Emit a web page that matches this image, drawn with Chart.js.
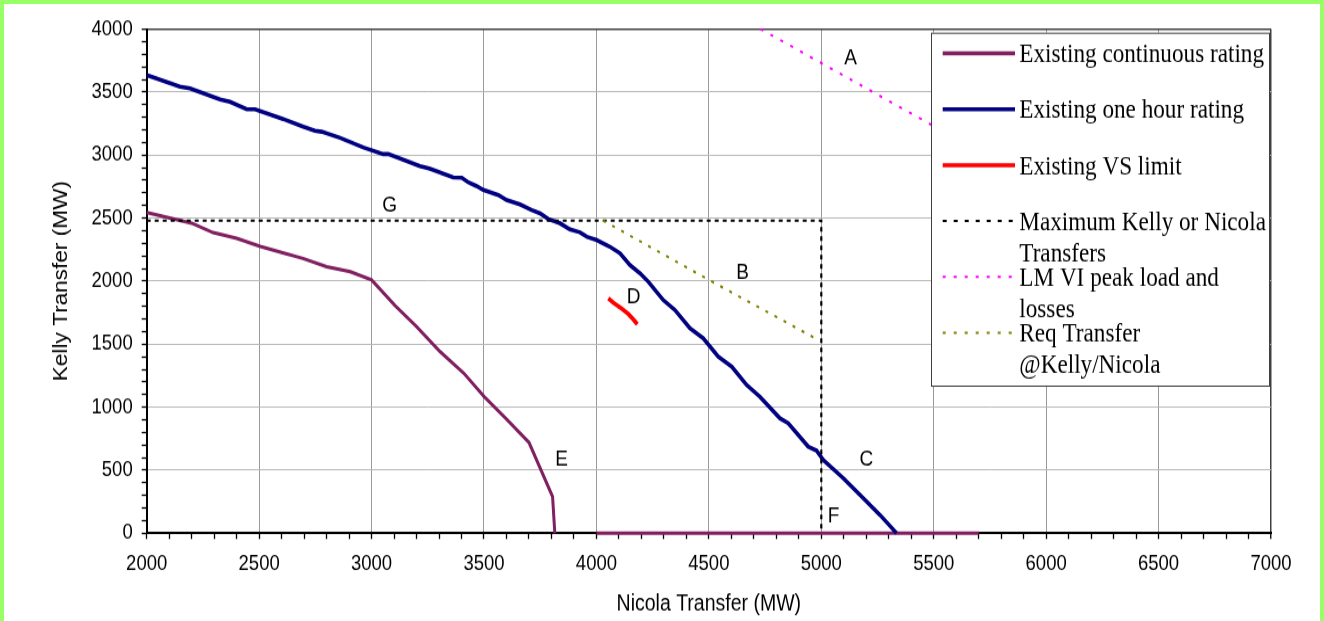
<!DOCTYPE html>
<html><head><meta charset="utf-8">
<script src="https://cdn.jsdelivr.net/npm/chart.js@4.4.1/dist/chart.umd.min.js"></script>
<style>
html,body{margin:0;padding:0;background:#99FF66;overflow:hidden;width:1324px;height:621px}
#wrap{position:absolute;left:4px;top:4px;width:1316px;height:617px;background:#fff}
canvas{display:block}
</style></head><body>
<div id="wrap"><canvas id="c" width="1316" height="532" style="width:1316px;height:617px"></canvas></div>
<script>
// ---- data ----
const seriesLabels = [
  ['Existing continuous rating'],
  ['Existing one hour rating'],
  ['Existing VS limit'],
  ['Maximum Kelly or Nicola', 'Transfers'],
  ['LM VI peak load and', 'losses'],
  ['Req Transfer', '@Kelly/Nicola']
];
const continuousX = [2000,2200,2295,2400,2505,2605,2695,2800,2905,3000,3105,3200,3305,3410,3500,3600,3700,3805,3815,3900,4000,5700];
const continuousY = [2545,2460,2385,2340,2275,2225,2180,2115,2075,2010,1805,1640,1440,1270,1085,905,720,290,0,null,0,0];
const oneHourX = [2000,2148,2193,2326,2370,2445,2482,2578,2607,2696,2748,2778,2860,2963,3052,3074,3215,3260,3363,3401,3430,3467,3497,3564,3601,3660,3712,3749,3786,3838,3882,3927,3957,4001,4060,4105,4149,4194,4231,4297,4349,4416,4475,4542,4602,4668,4727,4816,4853,4942,4979,5009,5098,5187,5261,5335];
const oneHourY = [3635,3542,3529,3442,3423,3363,3363,3304,3286,3225,3193,3185,3137,3061,3008,3008,2913,2891,2823,2820,2784,2754,2723,2683,2643,2609,2564,2538,2493,2459,2411,2387,2352,2326,2273,2221,2128,2062,1995,1850,1771,1626,1547,1401,1321,1176,1083,912,872,687,655,581,436,278,145,0];
const vsLimitX = [4053,4075,4105,4142,4164,4182];
const vsLimitY = [1864,1829,1792,1739,1697,1658];
const maxTransferX = [2000,5000,5000];
const maxTransferY = [2480,2480,0];
const lmPeakX = [4730,5480,5600];
const lmPeakY = [4000,3250,3130];
const reqTransferX = [4030,4500,4975];
const reqTransferY = [2480,2010,1545];
const noteText = ['A','B','C','D','E','F','G'];
const noteX = [5130,4650,5200,4165,3845,5055,3080];
const noteY = [3780,2080,600,1890,600,145,2610];
const xMin = 2000, xMax = 7000, xMajor = 500, xMinor = 100;
const yMin = 0, yMax = 4000, yMajor = 500, yMinor = 100;

const pts = (xs, ys) => xs.map((x, i) => ({x: x, y: ys[i]}));

const SANS = 'Arial, "Liberation Sans", sans-serif';
const SERIF = '"Times New Roman", "Liberation Serif", serif';
Chart.defaults.font.family = SANS;
Chart.defaults.color = '#000';

const styles = [
  {borderColor:'#802060', borderWidth:3, borderDash:[], legendWidth:3.5, legendDash:[]},
  {borderColor:'#000080', borderWidth:3.6, borderDash:[], legendWidth:3.5, legendDash:[]},
  {borderColor:'#FF0000', borderWidth:3.8, borderDash:[], legendWidth:3.5, legendDash:[]},
  {borderColor:'#000000', borderWidth:2.2, borderDash:[4,4], legendWidth:2, legendDash:[4,7]},
  {borderColor:'#FF00FF', borderWidth:2, borderDash:[3,8], legendWidth:2, legendDash:[3,8]},
  {borderColor:'#808000', borderWidth:2, borderDash:[3,7], legendWidth:2, legendDash:[3,8]}
];
const seriesData = [
  pts(continuousX, continuousY),
  pts(oneHourX, oneHourY),
  pts(vsLimitX, vsLimitY),
  pts(maxTransferX, maxTransferY),
  pts(lmPeakX, lmPeakY),
  pts(reqTransferX, reqTransferY)
];
const datasets = seriesData.map((d, i) => ({
  label: seriesLabels[i].join(' '),
  data: d,
  borderColor: styles[i].borderColor,
  borderWidth: styles[i].borderWidth,
  borderDash: styles[i].borderDash,
  pointRadius: 0,
  tension: 0,
  fill: false,
  spanGaps: false,
  clip: 4,
  order: 6 - i
}));

const notesAndLegend = {
  id: 'notesAndLegend',
  afterDatasetsDraw(chart) {
    const {ctx} = chart; const xs = chart.scales.x, ys = chart.scales.y;
    ctx.save();
    ctx.font = '19px ' + SANS;
    ctx.fillStyle = '#000'; ctx.textAlign = 'center'; ctx.textBaseline = 'alphabetic';
    noteText.forEach((t, i) => {
      ctx.fillText(t, xs.getPixelForValue(noteX[i]), ys.getPixelForValue(noteY[i]) + 19 * 0.716 / 2);
    });
    ctx.restore();
  },
  afterDraw(chart) {
    const {ctx} = chart;
    const L = 927, T = 24.7, R = 1266, B = 330;
    ctx.save();
    ctx.fillStyle = '#fff';
    ctx.fillRect(L, T, R - L, B - T);
    ctx.strokeStyle = '#404040'; ctx.lineWidth = 1;
    ctx.strokeRect(L + 0.5, T + 0.5, R - L - 1, B - T - 1);
    const fs = 23.2;
    ctx.font = fs + 'px ' + SERIF;
    ctx.textAlign = 'left'; ctx.textBaseline = 'alphabetic'; ctx.fillStyle = '#000';
    chart.data.datasets.forEach((ds, i) => {
      const yy = 42.5 + i * 48.2;
      ctx.beginPath();
      ctx.strokeStyle = ds.borderColor;
      ctx.lineWidth = styles[i].legendWidth;
      ctx.setLineDash(styles[i].legendDash);
      ctx.moveTo(938.7, yy); ctx.lineTo(1011, yy);
      ctx.stroke();
      ctx.setLineDash([]);
      seriesLabels[i].forEach((line, k) => {
        ctx.fillText(line, 1015.3, yy + fs * 0.662 / 2 + k * 27.3);
      });
    });
    ctx.restore();
  }
};

const isMajor = (v, step) => Math.abs(Math.round(v) % step) === 0;

new Chart(document.getElementById('c'), {
  type: 'line',
  data: {datasets: datasets},
  options: {
    responsive: false,
    animation: false,
    devicePixelRatio: 1,
    layout: {padding: {left: 0, top: 21.55, right: 49, bottom: 0}},
    plugins: {legend: {display: false}, tooltip: {enabled: false}},
    scales: {
      x: {
        type: 'linear', min: xMin, max: xMax,
        afterFit(s) { s.height = 75.7; },
        ticks: {
          stepSize: xMinor, autoSkip: false, maxRotation: 0, minRotation: 0,
          padding: 11, font: {size: 18.5}, color: '#000',
          callback: (v) => isMajor(v, xMajor) ? String(Math.round(v)) : ''
        },
        grid: {
          color: (c) => c.tick && Math.round(c.tick.value) === xMax ? '#404040' : (c.tick && isMajor(c.tick.value, xMajor) ? '#9a9a9a' : 'rgba(0,0,0,0)'),
          lineWidth: (c) => c.tick && Math.round(c.tick.value) === xMax ? 1.5 : 1,
          tickColor: '#000', tickLength: 5, tickWidth: 1.3
        },
        border: {color: '#000', width: 2},
        title: {display: true, text: 'Nicola Transfer (MW)', font: {size: 19.5}, color: '#000', padding: {top: 0, bottom: 2.2}}
      },
      y: {
        type: 'linear', min: yMin, max: yMax,
        afterFit(s) { s.width = 142.7; },
        ticks: {
          stepSize: yMinor, autoSkip: false,
          padding: 9, font: {size: 18.5}, color: '#000',
          callback: (v) => isMajor(v, yMajor) ? String(Math.round(v)) : ''
        },
        grid: {
          color: (c) => c.tick && Math.round(c.tick.value) === yMax ? '#404040' : (c.tick && isMajor(c.tick.value, yMajor) ? '#b8b8b8' : 'rgba(0,0,0,0)'),
          lineWidth: (c) => c.tick && Math.round(c.tick.value) === yMax ? 1.5 : 1,
          tickColor: '#000', tickLength: 5, tickWidth: 1.3
        },
        border: {color: '#000', width: 2},
        title: {display: true, text: 'Kelly Transfer (MW)', font: {size: 19.5}, color: '#000', padding: {top: 46, bottom: 0}}
      }
    }
  },
  plugins: [notesAndLegend]
});
</script>
</body></html>
